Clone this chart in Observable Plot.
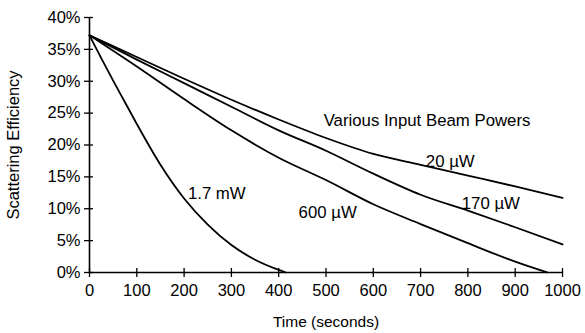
<!DOCTYPE html>
<html>
<head>
<meta charset="utf-8">
<script src="https://cdn.jsdelivr.net/npm/d3@7"></script>
<script src="https://cdn.jsdelivr.net/npm/@observablehq/plot@0.6"></script>
<style>
  html, body { margin: 0; padding: 0; background: #fff; }
</style>
</head>
<body>
<div id="chart"></div>
<script>
// ---- data (percent scattering efficiency vs time in seconds) ----
const timeSlow = [0, 100, 200, 300, 400, 500, 600, 700, 800, 900, 1000];
const eff20uW  = [37.2, 33.8, 30.4, 27.1, 24.0, 21.1, 18.6, 16.9, 15.2, 13.5, 11.7];
const eff170uW = [37.2, 33.4, 29.7, 26.0, 22.3, 19.1, 15.5, 12.2, 9.7, 7.1, 4.4];
const time600uW = [0, 100, 200, 300, 400, 500, 600, 700, 800, 900, 968];
const eff600uW  = [37.2, 32.3, 27.2, 22.3, 18.0, 14.5, 10.7, 7.6, 4.6, 1.7, 0];
const time17mW = [0, 25, 50, 75, 100, 150, 200, 250, 300, 350, 400, 415];
const eff17mW  = [37.2, 33.6, 30.1, 26.7, 23.3, 16.9, 11.6, 7.5, 4.3, 2.0, 0.4, 0];

const xTicks = [0, 100, 200, 300, 400, 500, 600, 700, 800, 900, 1000];
const yTicks = [0, 5, 10, 15, 20, 25, 30, 35, 40];

const labelText = ["Various Input Beam Powers", "20 \u00b5W", "170 \u00b5W", "600 \u00b5W", "1.7 mW"];
const labelTime = [495, 711, 787, 442, 208];
const labelEff  = [23.0, 16.5, 9.9, 8.6, 11.6];

// ---- build tables ----
const series = [
  {name: "20 µW", t: timeSlow, v: eff20uW},
  {name: "170 µW", t: timeSlow, v: eff170uW},
  {name: "600 µW", t: time600uW, v: eff600uW},
  {name: "1.7 mW", t: time17mW, v: eff17mW}
];
const rows = series.flatMap(s => s.t.map((t, i) => ({series: s.name, t, v: s.v[i]})));
const labels = labelText.map((text, i) => ({text, t: labelTime[i], v: labelEff[i]}));

const font = "'Liberation Sans', Arial, Helvetica, sans-serif";

const chart = Plot.plot({
  width: 585,
  height: 333,
  marginLeft: 89,
  marginRight: 23,
  marginTop: 17,
  marginBottom: 61,
  style: {fontFamily: font, fontSize: "16px", color: "black", background: "white", overflow: "visible"},
  x: {domain: [0, 1000]},
  y: {domain: [0, 40]},
  marks: [
    Plot.axisY(yTicks, {tickSize: 0, tickPadding: 9, tickFormat: d => d + "%", label: null, fontSize: 16.5}),
    Plot.axisY(yTicks, {tickSize: 9, dx: 4, tickFormat: () => "", label: null, strokeWidth: 1.3}),
    Plot.axisX(xTicks, {tickSize: 0, tickPadding: 12, tickFormat: d => String(d), label: null, fontSize: 16.5}),
    Plot.axisX(xTicks, {tickSize: 9, dy: -4, tickFormat: () => "", label: null, strokeWidth: 1.3}),
    Plot.ruleX([0], {stroke: "black", strokeWidth: 1.6}),
    Plot.ruleY([0], {stroke: "black", strokeWidth: 1.6}),
    Plot.line(rows, {x: "t", y: "v", z: "series", stroke: "black", strokeWidth: 1.8, curve: "monotone-x"}),
    Plot.text(labels, {x: "t", y: "v", text: "text", textAnchor: "start", lineAnchor: "bottom", fontSize: 16.8, fill: "black"}),
    Plot.text(["Time (seconds)"], {frameAnchor: "bottom", textAnchor: "middle", dy: 54, lineAnchor: "bottom", fontSize: 15.5, fill: "black"}),
    Plot.text(["Scattering Efficiency"], {frameAnchor: "left", textAnchor: "middle", dx: -76, rotate: -90, lineAnchor: "middle", fontSize: 16.5, fill: "black"})
  ]
});
document.getElementById("chart").appendChild(chart);
</script>
</body>
</html>
